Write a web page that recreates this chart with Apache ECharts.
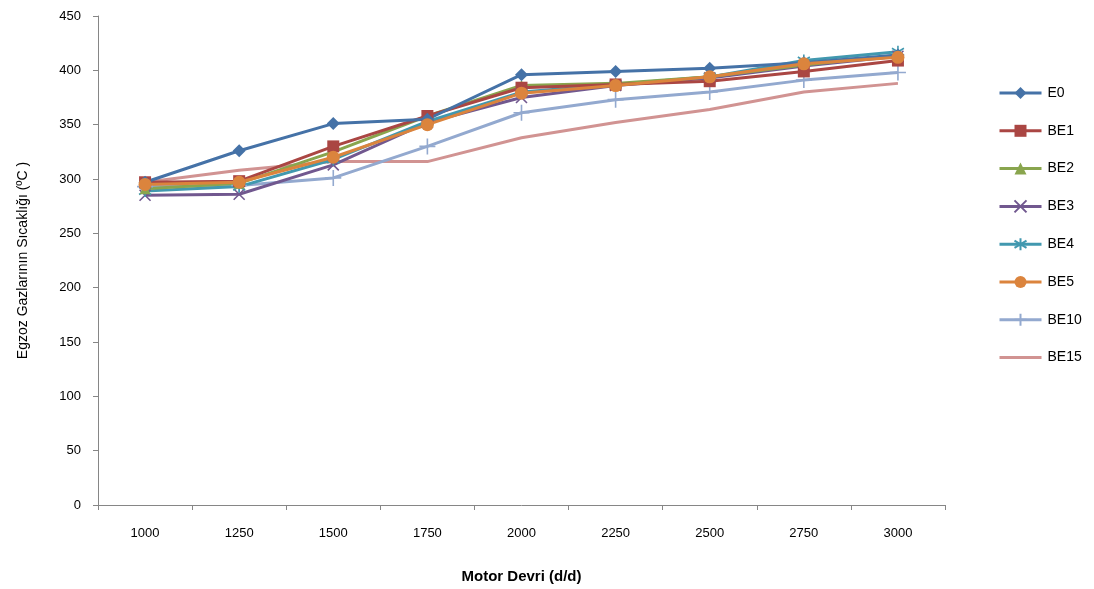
<!DOCTYPE html>
<html>
<head>
<meta charset="utf-8">
<script src="https://cdn.jsdelivr.net/npm/echarts@6/dist/echarts.min.js"></script>
<style>
  html, body { margin: 0; padding: 0; background: #fff; }
  #chart { width: 1094px; height: 589px; }
</style>
</head>
<body>
<div id="chart"></div>
<script>
// Engine speed (rpm) categories
const speeds = ['1000', '1250', '1500', '1750', '2000', '2250', '2500', '2750', '3000'];

// Exhaust gas temperature (°C) per fuel blend
const E0   = [297, 326, 351, 355, 396, 399, 402, 407, 414];
const BE1  = [297, 298, 330, 358, 384, 387, 390, 399, 409];
const BE2  = [291, 296, 325, 358, 386, 388, 394, 405, 414];
const BE3  = [285, 286, 313, 352, 375, 386, 393, 404, 413];
const BE4  = [289, 293, 318, 353, 380, 387, 394, 409, 417];
const BE5  = [295, 297, 320, 350, 379, 386, 394, 406, 412];
const BE10 = [293, 294, 301, 330, 361, 373, 380, 391, 398];
const BE15 = [297, 308, 316, 316, 338, 352, 364, 380, 388];

const yTicks = { min: 0, max: 450, interval: 50 };

const FONT = "'Liberation Sans Narrow', 'Liberation Sans', Arial, sans-serif";

// stroked marker shapes
const xMark = 'path://M0,0L10,10M10,0L0,10';
const starMark = 'path://M5,0L5,10M0,2L10,8M10,2L0,8';
const plusMark = 'path://M5,0L5,10M0,5L10,5';
// a bare diagonal with no border: draws nothing (plain-line series)
const noMark = 'path://M0,0L10,10';

function line(name, data, color, symbol, size, stroke) {
  return {
    name, type: 'line', data,
    color,
    symbol, symbolSize: size,
    showSymbol: size > 0,
    lineStyle: { width: 3, color },
    itemStyle: stroke
      ? { color: color, borderColor: color, borderWidth: 1.6 }
      : { color: color },
    emphasis: { disabled: true },
    animation: false,
    z: 2
  };
}

const series = [
  line('BE15', BE15, '#D19392', noMark, 0, false),
  line('BE10', BE10, '#93A9CF', plusMark, 16, true),
  line('BE3', BE3, '#71588F', xMark, 11, true),
  line('BE4', BE4, '#4198AF', starMark, 12, true),
  line('BE2', BE2, '#89A54E', 'triangle', 11),
  line('BE1', BE1, '#AA4643', 'rect', 12),
  line('E0', E0, '#4572A7', 'diamond', 13),
  line('BE5', BE5, '#DB843D', 'circle', 13)
];

const chart = echarts.init(document.getElementById('chart'), null, { renderer: 'canvas' });
chart.setOption({
  backgroundColor: '#fff',
  animation: false,
  grid: { left: 98, right: 149, top: 16, bottom: 84, containLabel: false },
  legend: {
    orient: 'vertical',
    left: 998, top: 86,
    padding: 0,
    itemWidth: 42, itemHeight: 15,
    itemGap: 23.8,
    data: ['E0', 'BE1', 'BE2', 'BE3', 'BE4', 'BE5', 'BE10', 'BE15'],
    lineStyle: { width: 3 },
    textStyle: { fontFamily: FONT, fontSize: 14, color: '#000', padding: [0, 0, 0, 1] },
    selectedMode: false
  },
  xAxis: {
    type: 'category',
    data: speeds,
    boundaryGap: true,
    name: 'Motor Devri (d/d)',
    nameLocation: 'middle',
    nameGap: 64,
    nameTextStyle: { fontFamily: FONT, fontSize: 15, fontWeight: 'bold', color: '#000' },
    axisLine: { lineStyle: { color: '#868686', width: 1 } },
    axisTick: { show: true, alignWithLabel: false, length: 5, lineStyle: { color: '#868686' } },
    axisLabel: { fontFamily: FONT, fontSize: 13, color: '#000', margin: 22 },
    splitLine: { show: false }
  },
  yAxis: {
    type: 'value',
    min: yTicks.min, max: yTicks.max, interval: yTicks.interval,
    name: 'Egzoz Gazlarının Sıcaklığı (ºC )',
    nameLocation: 'middle',
    nameRotate: 90,
    nameGap: 68,
    nameTextStyle: { fontFamily: FONT, fontSize: 14, color: '#000' },
    axisLine: { show: true, lineStyle: { color: '#868686', width: 1 } },
    axisTick: { show: true, length: 5, lineStyle: { color: '#868686' } },
    axisLabel: { fontFamily: FONT, fontSize: 13, color: '#000', margin: 17 },
    splitLine: { show: false }
  },
  series
});
</script>
</body>
</html>
